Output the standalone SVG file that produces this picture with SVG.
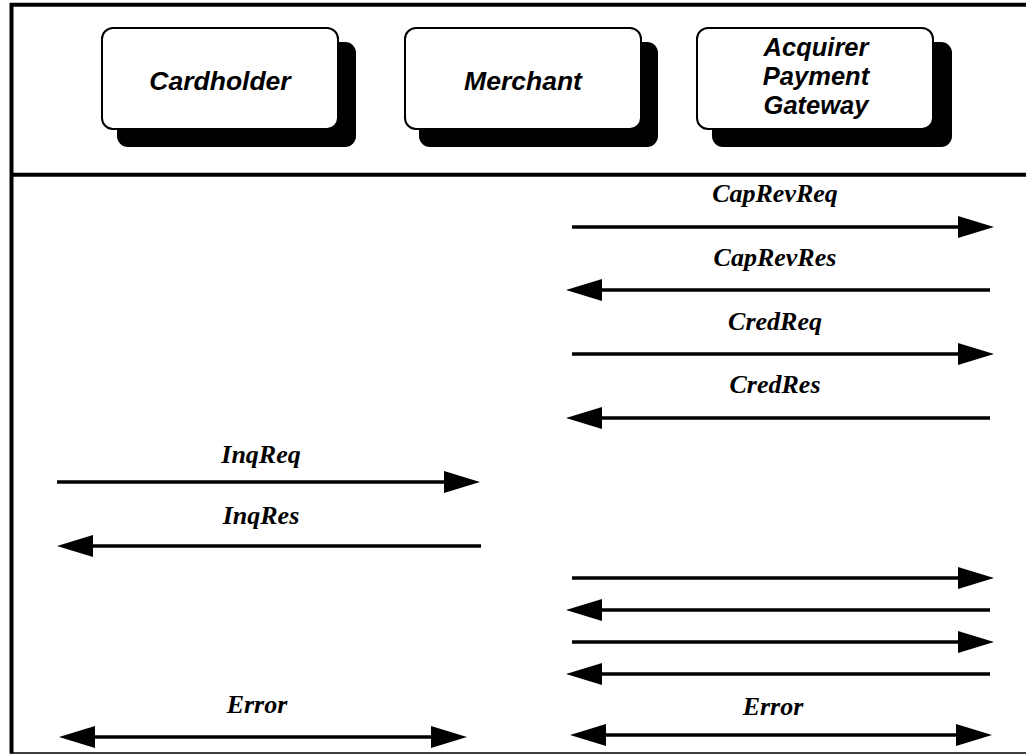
<svg xmlns="http://www.w3.org/2000/svg" width="1026" height="755" viewBox="0 0 1026 755">
  <style>
    .frame { stroke: #000; stroke-width: 4; fill: none; }
    .shadow { fill: #000; }
    .box { fill: #fff; stroke: #000; stroke-width: 2; }
    .name { font-family: "Liberation Sans", Arial, sans-serif; font-weight: bold; font-style: italic; font-size: 26.5px; text-anchor: middle; fill: #000; }
    .stack { font-size: 25.5px; }
    .msg { font-family: "Liberation Serif", "Times New Roman", serif; font-weight: bold; font-style: italic; font-size: 26px; text-anchor: middle; fill: #000; }
    .flow { stroke: #000; stroke-width: 3.5; fill: none; }
    .one { marker-end: url(#head); }
    .two { marker-start: url(#head); marker-end: url(#head); }
  </style>
  <defs>
    <marker id="head" viewBox="0 -11 36 22" refX="2" refY="0" markerWidth="36" markerHeight="22" markerUnits="userSpaceOnUse" orient="auto-start-reverse" overflow="visible">
      <path d="M0,-11 L36,0 L0,11 Z" fill="#000"/>
    </marker>
  </defs>

  <rect width="1026" height="755" fill="#fff"/>

  <!-- outer frame and header divider -->
  <g id="frame">
    <line class="frame" x1="11.5" y1="3" x2="11.5" y2="753.5"/>
    <line class="frame" x1="10" y1="4.8" x2="1026" y2="4.8"/>
    <line class="frame" x1="10" y1="174.7" x2="1026" y2="174.7"/>
    <line x1="10" y1="753" x2="1026" y2="753" stroke="#000" stroke-width="1.6"/>
  </g>

  <!-- participants -->
  <g id="cardholder">
    <rect class="shadow" x="117" y="42" width="239" height="105" rx="11"/>
    <rect class="box" x="102" y="28" width="236" height="101" rx="11"/>
    <text class="name" x="220" y="90">Cardholder</text>
  </g>
  <g id="merchant">
    <rect class="shadow" x="419" y="42" width="239" height="105" rx="11"/>
    <rect class="box" x="405" y="28" width="236" height="101" rx="11"/>
    <text class="name" x="523" y="90">Merchant</text>
  </g>
  <g id="gateway">
    <rect class="shadow" x="712" y="42" width="240" height="105" rx="11"/>
    <rect class="box" x="697" y="28" width="236" height="101" rx="11"/>
    <text class="name stack" x="816" y="55.5">Acquirer</text>
    <text class="name stack" x="816" y="84.5">Payment</text>
    <text class="name stack" x="816" y="113.5">Gateway</text>
  </g>

  <!-- message flows -->
  <g id="connectors">
    <line class="flow one" x1="572" y1="227" x2="960" y2="227"/>
    <line class="flow one" x1="990" y1="290" x2="600" y2="290"/>
    <line class="flow one" x1="572" y1="354" x2="960" y2="354"/>
    <line class="flow one" x1="990" y1="418" x2="600" y2="418"/>
    <line class="flow one" x1="57" y1="482" x2="446" y2="482"/>
    <line class="flow one" x1="481" y1="546" x2="91" y2="546"/>
    <line class="flow one" x1="572" y1="578" x2="960" y2="578"/>
    <line class="flow one" x1="990" y1="610" x2="600" y2="610"/>
    <line class="flow one" x1="572" y1="642" x2="960" y2="642"/>
    <line class="flow one" x1="990" y1="674" x2="600" y2="674"/>
    <line class="flow two" x1="93" y1="737" x2="433" y2="737"/>
    <line class="flow two" x1="604" y1="735" x2="958" y2="735"/>
  </g>

  <!-- message labels -->
  <g id="labels">
    <text class="msg" x="775" y="202">CapRevReq</text>
    <text class="msg" x="775" y="266">CapRevRes</text>
    <text class="msg" x="775" y="330">CredReq</text>
    <text class="msg" x="775" y="393">CredRes</text>
    <text class="msg" x="261" y="463">InqReq</text>
    <text class="msg" x="261" y="524">InqRes</text>
    <text class="msg" x="257" y="713">Error</text>
    <text class="msg" x="773" y="715">Error</text>
  </g>
</svg>
